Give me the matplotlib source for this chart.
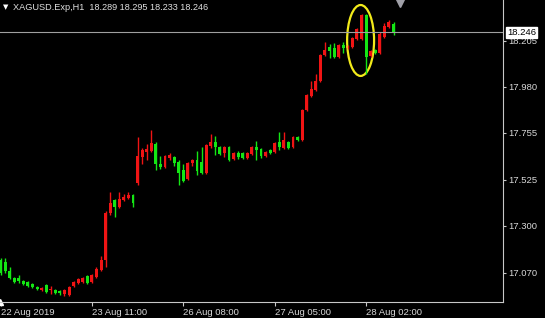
import numpy as np
import matplotlib.pyplot as plt
from matplotlib.patches import Ellipse

plt.rcParams['font.family'] = ['Liberation Sans', 'DejaVu Sans']

# XAGUSD H1 candles (red = up bar, green = down bar)
opens = [17.13, 17.12, 17.08, 17.045, 17.045, 17.03, 17.025, 17.015, 17.0, 16.985,
         17.01, 16.985, 16.985, 16.98, 16.965, 16.96, 17.005, 17.02, 17.025, 17.055,
         17.025, 17.05, 17.085, 17.13, 17.36, 17.425, 17.39, 17.425, 17.435, 17.45,
         17.51, 17.635, 17.66, 17.665, 17.70, 17.60, 17.585, 17.63, 17.635, 17.61,
         17.57, 17.53, 17.605, 17.62, 17.61, 17.56, 17.69, 17.71, 17.685, 17.655,
         17.685, 17.625, 17.655, 17.655, 17.63, 17.65, 17.685, 17.675, 17.64, 17.67,
         17.66, 17.71, 17.68, 17.71, 17.685, 17.735, 17.72, 17.865, 17.935, 17.965,
         18.01, 18.135, 18.175, 18.17, 18.125, 18.185, 18.17, 18.175, 18.215, 18.215,
         18.33, 18.13, 18.16, 18.145, 18.225, 18.27, 18.289]
highs = [17.14, 17.14, 17.10, 17.05, 17.06, 17.035, 17.03, 17.02, 17.005, 17.0,
         17.015, 17.005, 16.99, 16.985, 16.99, 17.005, 17.03, 17.045, 17.05, 17.06,
         17.065, 17.10, 17.15, 17.37, 17.465, 17.43, 17.465, 17.455, 17.465, 17.455,
         17.735, 17.68, 17.70, 17.77, 17.71, 17.64, 17.645, 17.655, 17.64, 17.62,
         17.60, 17.61, 17.625, 17.665, 17.685, 17.70, 17.75, 17.74, 17.69, 17.69,
         17.69, 17.66, 17.665, 17.66, 17.66, 17.69, 17.715, 17.68, 17.665, 17.675,
         17.71, 17.76, 17.76, 17.715, 17.74, 17.74, 17.87, 17.945, 18.01, 18.04,
         18.14, 18.20, 18.19, 18.195, 18.19, 18.20, 18.185, 18.225, 18.265, 18.335,
         18.335, 18.16, 18.165, 18.245, 18.29, 18.305, 18.295]
lows = [17.06, 17.07, 17.04, 17.02, 17.02, 17.01, 17.0, 16.995, 16.985, 16.98,
        16.97, 16.965, 16.965, 16.96, 16.955, 16.955, 17.0, 17.015, 17.02, 17.015,
        17.02, 17.045, 17.08, 17.10, 17.35, 17.34, 17.385, 17.42, 17.43, 17.39,
        17.50, 17.60, 17.62, 17.66, 17.57, 17.575, 17.58, 17.62, 17.59, 17.50,
        17.515, 17.525, 17.59, 17.55, 17.555, 17.555, 17.68, 17.645, 17.645, 17.635,
        17.615, 17.62, 17.625, 17.625, 17.625, 17.645, 17.62, 17.63, 17.635, 17.65,
        17.655, 17.67, 17.675, 17.675, 17.68, 17.715, 17.715, 17.86, 17.93, 17.96,
        18.005, 18.13, 18.12, 18.12, 18.12, 18.145, 18.165, 18.17, 18.21, 18.21,
        18.04, 18.125, 18.14, 18.14, 18.22, 18.265, 18.233]
closes = [17.07, 17.08, 17.045, 17.025, 17.03, 17.015, 17.005, 17.0, 16.99, 16.995,
          16.975, 16.99, 16.97, 16.97, 16.985, 17.0, 17.025, 17.04, 17.045, 17.02,
          17.06, 17.09, 17.13, 17.36, 17.41, 17.39, 17.43, 17.44, 17.45, 17.41,
          17.64, 17.67, 17.675, 17.705, 17.60, 17.585, 17.64, 17.645, 17.605, 17.56,
          17.52, 17.605, 17.62, 17.565, 17.56, 17.695, 17.71, 17.685, 17.65, 17.685,
          17.62, 17.655, 17.635, 17.63, 17.655, 17.685, 17.67, 17.64, 17.66, 17.655,
          17.705, 17.685, 17.72, 17.68, 17.735, 17.72, 17.865, 17.94, 17.97, 18.01,
          18.135, 18.16, 18.155, 18.125, 18.185, 18.17, 18.178, 18.22, 18.26, 18.33,
          18.125, 18.155, 18.145, 18.24, 18.275, 18.295, 18.246]

price_ticks = [18.205, 17.980, 17.755, 17.525, 17.300, 17.070]
date_pos = [0, 20, 40, 60, 80]
date_labels = ['22 Aug 2019', '23 Aug 11:00', '26 Aug 08:00', '27 Aug 05:00', '28 Aug 02:00']
last_price = 18.246
title = 'XAGUSD.Exp,H1  18.289 18.295 18.233 18.246'

o = np.array(opens)
h = np.array(highs)
l = np.array(lows)
c = np.array(closes)
x = np.arange(len(o))
up = c >= o
col = np.where(up, '#f01414', '#14e614')

fig = plt.figure(figsize=(5.45, 3.18), dpi=100, facecolor='black')
ax = fig.add_axes([0, 16/318, 503/545, 302/318], facecolor='black')

ax.vlines(x, l, h, colors=col, linewidth=1)
body = np.maximum(np.abs(c - o), 0.003)
ax.bar(x, body, bottom=np.minimum(o, c), width=0.64, color=col, linewidth=0)

ax.axhline(last_price, color='#a0a0a0', linewidth=0.8)
ax.add_patch(Ellipse((78.8, 18.206), 5.9, 0.347, fill=False, edgecolor='#f2ea1a', linewidth=1.6))

ax.set_xlim(-0.11, 109.96)
ax.set_ylim(16.9265, 18.404)

for s in ['top', 'left']:
    ax.spines[s].set_visible(False)
for s in ['right', 'bottom']:
    ax.spines[s].set_color('#c8c8c8')
    ax.spines[s].set_linewidth(0.8)

ax.yaxis.tick_right()
ax.set_yticks(price_ticks)
ax.set_yticklabels(['%.3f' % v for v in price_ticks])
ax.tick_params(axis='y', colors='#c8c8c8', labelcolor='#d8d8d8', labelsize=6.8, length=2, pad=2)
ax.set_xticks(date_pos)
ax.set_xticklabels(date_labels, ha='left')
ax.tick_params(axis='x', colors='#c8c8c8', labelcolor='#d8d8d8', labelsize=6.8, length=3, pad=1.5)

ax.text(1.008, last_price, '18.246', transform=ax.get_yaxis_transform(), fontsize=6.8,
        color='black', va='center', ha='left',
        bbox=dict(boxstyle='square,pad=0.12', facecolor='white', edgecolor='white'))

fig.text(3/545, 1 - 7/318, '\u25bc', color='white', fontsize=5, va='center', family='DejaVu Sans')
fig.text(13/545, 1 - 7/318, title, color='#e0e0e0', fontsize=6.6, va='center')
ax.plot([0.795], [0.995], marker='v', color='#a0a0a8', markersize=7, transform=ax.transAxes, clip_on=False)
ax.plot([0.0], [0.0], marker='^', color='white', markersize=5, transform=ax.transAxes, clip_on=False)

fig.savefig('out.png', dpi=100, facecolor='black')
